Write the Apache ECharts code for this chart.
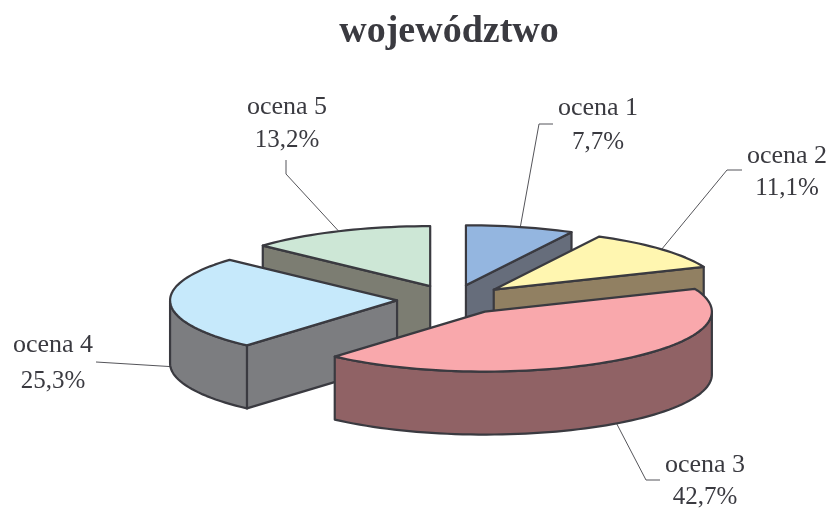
<!DOCTYPE html>
<html><head><meta charset="utf-8">
<style>html,body{margin:0;padding:0;background:#fff}#c{width:833px;height:510px}</style>
<script src="https://cdn.jsdelivr.net/npm/echarts@6/dist/echarts.min.js"></script>
</head><body><div id="c"></div>
<script>
const categories = ['ocena 1','ocena 2','ocena 3','ocena 4','ocena 5'];
const shares = [7.7, 11.1, 42.7, 25.3, 13.2];
const shareLabels = ['7,7%','11,1%','42,7%','25,3%','13,2%'];
const topColors = ['#94B6E0','#FFF6B0','#F9A8AC','#C6E9FB','#CDE7D6'];
const wallColors = ['#666D7B','#918062','#906265','#7C7D80','#7C7D72'];

// projection of the exploded pie
const CX = 452.6, CY = 299.6, RX = 227, RY = 60, DEPTH = 63, EXPLODE = 0.245;
const INK = '#3a3a40', FONT = '"Liberation Serif", serif';
// leader bend/end points and label centres, per category
const leaders = [
  [[539,124],[553,124]], [[727,170],[742,170]], [[646,480],[660,480]],
  [[96,362]], [[286,174],[286,160]]
];
const labelPos = [[598,108,142],[787,156,188],[705,465,497],[53,345,381],[287,107,140]];

const total = shares.reduce((a,b)=>a+b,0);
let acc = 0;
const slices = shares.map((v,i)=>{
  const a0 = acc/total*360; acc += v; const a1 = acc/total*360;
  const mid = (a0+a1)/2*Math.PI/180;
  return {i, a0, a1, cx: CX+EXPLODE*RX*Math.sin(mid), cy: CY-EXPLODE*RY*Math.cos(mid)};
});
const pt = (s,deg,dz=0)=>{const t=deg*Math.PI/180;return [s.cx+RX*Math.sin(t), s.cy-RY*Math.cos(t)+dz];};
const arc = (s,a,b,dz=0)=>{const n=Math.max(2,Math.ceil(Math.abs(b-a)/2)),o=[];for(let k=0;k<=n;k++)o.push(pt(s,a+(b-a)*k/n,dz));return o;};
const face = (points,fill)=>({type:'polygon',shape:{points},style:{fill,stroke:INK,lineWidth:2.2,lineJoin:'round'}});

// paint from the back of the picture to the front
const order = slices.slice().sort((p,q)=>p.cy-q.cy).map(s=>s.i);

function renderItem(params){
  const idx = order[params.dataIndex], s = slices[idx], wall = wallColors[idx];
  const children = [], apex=[s.cx,s.cy], apexLow=[s.cx,s.cy+DEPTH];
  const sin = d=>Math.sin(d*Math.PI/180);
  const radial = d=>face([apex,pt(s,d),pt(s,d,DEPTH),apexLow],wall);
  if (sin(s.a1)>1e-6) children.push(radial(s.a1));
  if (sin(s.a0)<-1e-6) children.push(radial(s.a0));
  const w0=Math.max(s.a0,90), w1=Math.min(s.a1,270);
  if (w1>w0) children.push(face(arc(s,w0,w1).concat(arc(s,w1,w0,DEPTH)),wall));
  children.push(face([apex].concat(arc(s,s.a0,s.a1)),topColors[idx]));
  return {type:'group',children};
}
function renderLabel(params){
  const idx = params.dataIndex, s = slices[idx], mid=(s.a0+s.a1)/2;
  const front = Math.cos(mid*Math.PI/180)<0;
  const start = pt(s,mid,front?DEPTH:0);
  const p = labelPos[idx];
  const txt = (t,y,size)=>({type:'text',style:{text:t,x:p[0],y,align:'center',verticalAlign:'middle',fill:INK,font:size+'px '+FONT}});
  return {type:'group',children:[
    {type:'polyline',shape:{points:[start].concat(leaders[idx])},style:{fill:null,stroke:'#55555a',lineWidth:1}},
    txt(categories[idx],p[1],26), txt(shareLabels[idx],p[2],25)
  ]};
}
const chart = echarts.init(document.getElementById('c'),null,{renderer:'canvas'});
chart.setOption({
  animation:false, backgroundColor:'#fff',
  title:{text:'województwo',left:444,top:8,textAlign:'center',
    textStyle:{fontFamily:FONT,fontSize:38,fontWeight:'bold',color:INK}},
  series:[
    {type:'custom',coordinateSystem:'none',renderItem:renderLabel,z:1,silent:true,
     data:shares.map((v,i)=>({name:categories[i],value:[v]}))},
    {type:'custom',coordinateSystem:'none',renderItem,z:2,silent:true,
     data:order.map(i=>({name:categories[i],value:[shares[i]]}))}
  ]
});
</script></body></html>
